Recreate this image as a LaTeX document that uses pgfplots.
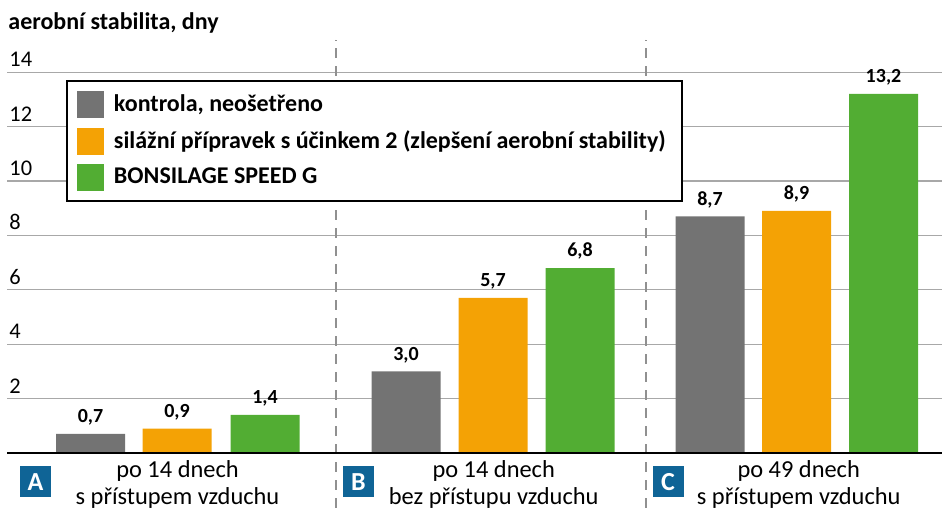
\documentclass[border=0pt]{standalone}
\usepackage{pgfplots}
\pgfplotsset{compat=1.18}
\usepackage{fontspec}
\setmainfont{Carlito}
\definecolor{cgray}{HTML}{737373}
\definecolor{corange}{HTML}{F4A205}
\definecolor{cgreen}{HTML}{52AD33}
\definecolor{cblue}{HTML}{0F6496}
\definecolor{cgrid}{HTML}{A8A8A8}
\definecolor{csep}{HTML}{909090}
\begin{document}
\fontsize{11}{13.5}\selectfont
\begin{tikzpicture}
\useasboundingbox (-3.5pt,0pt) rectangle (467.5pt,254pt);
\begin{axis}[
  at={(0pt,0pt)}, anchor=south west,
  scale only axis, width=467.5pt, height=254pt,
  xmin=7, xmax=942, ymin=-2.022, ymax=16.654,
  clip=false,
  axis line style={draw=none},
  major tick length=0pt,
  xtick=\empty,
  ytick={2,4,...,14},
  ymajorgrids,
  grid style={cgrid, line width=0.6pt},
  /pgf/number format/assume math mode=true,
  yticklabel style={anchor=south west, inner sep=0pt, xshift=1pt, yshift=2.5pt, font=\fontsize{11.2}{13}\selectfont},
  point meta=y,
  nodes near coords={\pgfmathprintnumber[fixed,fixed zerofill,precision=1,use comma]{\pgfplotspointmeta}},
  every node near coord/.append style={font=\bfseries\fontsize{10}{12}\selectfont, anchor=south, inner sep=0pt, yshift=4pt, text=black},
  legend image code/.code={\fill[#1] (0pt,-6.75pt) rectangle (13.5pt,6.75pt);},
  legend style={at={(0.0631,0.8425)}, anchor=north west, draw=black, line width=1pt, fill=white,
    inner xsep=5pt, inner ysep=5pt, row sep=4.75pt, column sep=5pt,
    font=\bfseries\fontsize{12}{14}\selectfont,
    nodes={inner sep=0pt}, cells={anchor=west}},
]
\draw[csep, line width=0.75pt, dash pattern=on 5pt off 4pt] (axis cs:336,-2.022) -- (axis cs:336,15.2);
\draw[csep, line width=0.75pt, dash pattern=on 5pt off 4pt] (axis cs:646,-2.022) -- (axis cs:646,15.2);

\addplot[ybar, bar width=69, bar shift=0pt, fill=cgray, draw=none]
  coordinates {(90.5,0.7) (406,3.0) (710,8.7)};
\addlegendentry{kontrola, neošetřeno}
\addplot[ybar, bar width=69, bar shift=0pt, fill=corange, draw=none]
  coordinates {(177,0.9) (493,5.7) (796.5,8.9)};
\addlegendentry{silážní přípravek s účinkem 2 (zlepšení aerobní stability)\hspace*{3pt}}
\addplot[ybar, bar width=69, bar shift=0pt, fill=cgreen, draw=none]
  coordinates {(265,1.4) (580,6.8) (883.5,13.2)};
\addlegendentry{BONSILAGE SPEED G}

\draw[black, line width=1pt] (axis cs:7,0) -- (axis cs:942,0);

\node[anchor=west, font=\bfseries\fontsize{12}{14}\selectfont, inner sep=0pt] at (axis cs:8,15.81) {aerobní stabilita, dny};

\node[fill=cblue, text=white, font=\bfseries\fontsize{13}{13}\selectfont, minimum size=15.5pt, inner sep=0pt] at (axis cs:35.5,-1.066) {A};
\node[fill=cblue, text=white, font=\bfseries\fontsize{13}{13}\selectfont, minimum size=15.5pt, inner sep=0pt] at (axis cs:358.5,-1.066) {B};
\node[fill=cblue, text=white, font=\bfseries\fontsize{13}{13}\selectfont, minimum size=15.5pt, inner sep=0pt] at (axis cs:668,-1.066) {C};

\node[align=center, font=\fontsize{12.2}{13.5}\selectfont, inner sep=0pt] at (axis cs:177.5,-1.14) {po 14 dnech\\s přístupem vzduchu};
\node[align=center, font=\fontsize{12.2}{13.5}\selectfont, inner sep=0pt] at (axis cs:493.7,-1.14) {po 14 dnech\\bez přístupu vzduchu};
\node[align=center, font=\fontsize{12.2}{13.5}\selectfont, inner sep=0pt] at (axis cs:798.7,-1.14) {po 49 dnech\\s přístupem vzduchu};
\end{axis}
\end{tikzpicture}
\end{document}
